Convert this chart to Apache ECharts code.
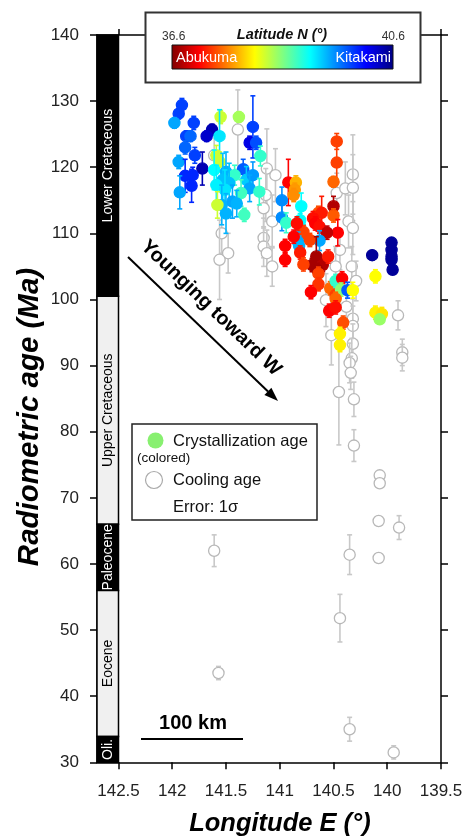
<!DOCTYPE html>
<html>
<head>
<meta charset="utf-8">
<title>Radiometric age vs longitude</title>
<script src="https://cdn.jsdelivr.net/npm/echarts@6/dist/echarts.min.js"></script>
<style>
  html, body { margin: 0; padding: 0; background: #fff; }
  #chart { width: 468px; height: 837px; }
</style>
</head>
<body>
<div id="chart"></div>
<script>
// crystallization ages (coloured by latitude)
var crysLon = [141.91, 141.94, 141.98, 141.80, 141.87, 141.83, 141.63, 141.68, 141.88, 141.79, 141.94, 141.72, 141.88, 141.81, 141.82, 141.93,
  141.55, 141.38, 141.56, 141.25, 141.28, 141.22, 141.59, 141.56, 141.18, 141.34, 141.61, 141.50, 141.42, 141.53, 141.47, 141.31, 141.25, 141.28,
  141.59, 141.51, 141.36, 141.19, 141.54, 141.44, 141.40, 141.50, 141.33, 141.58,
  140.92, 140.85, 140.86, 140.87, 140.47, 140.47, 140.50, 140.98, 140.98, 140.94, 140.80, 140.81, 140.81, 140.50, 140.50, 140.64, 140.61, 140.69,
  140.67, 140.63, 140.46, 140.56, 140.78, 140.84, 140.63, 140.83, 140.82, 140.72, 140.95, 140.95, 140.81, 140.66, 140.70, 140.60, 140.65, 140.55,
  140.78, 140.64, 140.64, 140.71, 140.53, 140.48, 140.48, 140.42, 140.43, 140.37, 140.32, 140.48, 140.54, 140.48, 140.41, 140.44, 140.44,
  140.14, 139.96, 139.96, 139.96, 139.96, 139.95, 140.11, 140.11, 140.05, 140.07, 140.87];
var crysAge = [129.4, 128.1, 126.7, 126.7, 124.7, 124.7, 125.7, 124.7, 123.0, 121.8, 120.8, 119.8, 118.7, 118.8, 117.2, 116.2,
  127.6, 127.6, 124.7, 126.1, 123.7, 123.7, 121.8, 120.8, 121.7, 119.7, 119.6, 119.3, 118.8, 118.1, 117.6, 118.1, 118.8, 116.8,
  117.3, 116.6, 116.1, 116.3, 114.3, 114.8, 114.5, 113.0, 112.8, 114.3,
  117.7, 117.7, 116.6, 115.8, 123.9, 120.7, 117.8, 115.0, 112.4, 111.6, 114.1, 112.0, 111.0, 114.1, 112.7, 113.1, 113.1, 112.3,
  111.5, 111.0, 110.1, 110.1, 110.2, 111.5, 108.9, 108.7, 108.1, 109.0, 108.1, 106.0, 107.1, 106.5, 105.2, 105.2, 104.5, 106.5,
  105.3, 103.9, 102.3, 101.1, 101.7, 100.7, 102.8, 103.2, 101.5, 101.4, 101.4, 100.1, 98.3, 98.8, 96.5, 94.8, 93.1,
  106.7, 108.6, 107.5, 106.5, 106.0, 104.5, 103.5, 98.0, 97.8, 97.0, 109.5];
var crysErr = [1.0, 0.8, 0.8, 1.0, 0.8, 0.8, 0.8, 0.8, 1.0, 1.2, 1.0, 2.5, 2.5, 1.2, 2.5, 2.5,
  1.0, 0.8, 4.0, 4.7, 1.0, 1.0, 1.5, 1.5, 1.5, 1.5, 3.0, 3.0, 1.5, 4.0, 3.0, 2.0, 2.0, 2.0,
  3.0, 3.0, 2.0, 2.0, 3.0, 2.5, 2.0, 3.0, 1.0, 2.0,
  3.5, 1.0, 1.0, 1.0, 1.2, 3.0, 0.8, 2.0, 2.0, 1.5, 2.0, 2.0, 2.0, 1.5, 1.0, 1.0, 2.5, 1.0,
  1.0, 1.0, 2.0, 1.0, 1.0, 1.0, 1.5, 1.5, 1.5, 1.0, 1.0, 1.0, 1.0, 3.0, 1.0, 1.0, 1.0, 1.0,
  1.0, 1.0, 1.0, 1.0, 1.0, 1.0, 1.0, 1.0, 1.0, 1.2, 1.2, 1.0, 1.0, 1.0, 1.0, 1.0, 1.0,
  0.7, 0.7, 0.7, 0.7, 0.7, 0.7, 1.0, 1.0, 1.0, 0.5, 1.0];
var crysLat = [39.85, 39.85, 39.45, 39.85, 39.85, 39.7, 40.4, 40.3, 39.7, 39.85, 39.45, 40.4, 39.95, 39.95, 39.95, 39.45,
  38.3, 38.45, 39.2, 39.85, 40.2, 39.8, 38.3, 38.3, 38.9, 39.75, 39.1, 39.4, 38.9, 39.35, 39.35, 39.3, 39.5, 39.45,
  39.15, 39.2, 38.85, 38.9, 39.4, 39.45, 39.4, 39.4, 38.85, 38.3,
  37.1, 37.8, 37.7, 37.65, 37.35, 37.35, 37.5, 39.55, 39.55, 38.9, 39.1, 39.1, 39.1, 36.8, 37.45, 37.4, 37.2, 37.15,
  37.1, 37.15, 37.1, 36.85, 37.35, 37.15, 39.45, 39.45, 39.4, 37.35, 37.1, 37.1, 37.2, 36.75, 36.75, 36.8, 36.75, 37.2,
  37.35, 37.35, 37.3, 37.1, 37.5, 37.35, 38.9, 37.1, 38.55, 39.75, 38.1, 37.5, 37.1, 37.15, 37.4, 38.05, 38.05,
  40.5, 40.5, 40.5, 40.5, 40.5, 40.5, 38.1, 38.05, 38.0, 38.5, 37.1];

// cooling ages (open circles)
var coolLon = [141.39, 141.12, 141.04, 141.13, 141.15, 141.07, 141.15, 141.15, 141.12, 141.07, 141.54, 141.48, 141.56, 141.61,
  140.47, 140.39, 140.32, 140.32, 140.36, 140.32, 140.44, 140.48, 140.33, 140.29, 140.57, 140.38, 140.32, 140.32, 140.52,
  140.32, 140.33, 140.35, 140.34, 140.45, 140.31, 140.31, 139.90, 139.86, 139.86, 140.07, 140.07, 140.08, 139.89,
  141.61, 140.35, 140.08, 140.44, 141.57, 140.35, 139.94];
var coolAge = [125.7, 119.8, 118.8, 115.8, 113.8, 111.8, 109.3, 108.0, 107.0, 105.0, 110.0, 107.0, 106.0, 121.8,
  116.1, 116.8, 118.9, 116.9, 111.8, 110.8, 107.5, 105.0, 105.0, 102.8, 99.9, 98.9, 97.1, 96.0, 94.6,
  93.3, 91.1, 90.4, 88.9, 86.0, 84.9, 77.9, 97.6, 92.0, 91.2, 73.4, 72.2, 66.5, 65.5,
  62.0, 61.4, 60.9, 51.8, 43.5, 35.0, 31.5];
var coolErr = [6.0, 6.0, 4.0, 4.0, 3.0, 4.0, 3.0, 3.0, 3.5, 3.0, 3.0, 3.0, 6.0, 3.0,
  3.0, 4.0, 6.0, 5.0, 4.0, 4.0, 3.0, 3.0, 3.0, 3.0, 4.0, 3.0, 3.0, 3.0, 4.5,
  3.0, 3.0, 3.0, 2.5, 8.0, 2.6, 2.4, 2.2, 2.0, 2.0, 0.3, 0.3, 0.3, 1.8,
  2.4, 3.0, 0.3, 3.6, 1.0, 1.8, 1.0];

var xTicks = [142.5, 142, 141.5, 141, 140.5, 140, 139.5];

// geologic time scale column
var epochNames = ['Lower Cretaceous', 'Upper Cretaceous', 'Paleocene', 'Eocene', 'Oli.'];
var epochTop = [140, 100.5, 66, 56, 33.9];
var epochBase = [100.5, 66, 56, 33.9, 30];
var epochDark = [true, false, true, false, true];

var latMin = 36.6, latMax = 40.6;
var jet = ['#800000', '#ff0000', '#ff8000', '#ffff00', '#80ff80', '#00ffff', '#0080ff', '#0000ff', '#000080'];

var FONT = "'Liberation Sans', Arial, Helvetica, sans-serif";

var chart = echarts.init(document.getElementById('chart'));

function errPoint(fill, stroke, bar) {
  return function (params, api) {
    var lon = api.value(0), age = api.value(1), err = api.value(2);
    var c = api.coord([lon, age]);
    var hi = api.coord([lon, age + err]);
    var lo = api.coord([lon, age - err]);
    var col = fill || api.visual('color');
    var bc = bar || col;
    var cap = 2.5;
    return {
      type: 'group',
      children: [
        { type: 'line', shape: { x1: c[0], y1: hi[1], x2: c[0], y2: lo[1] }, style: { stroke: bc, lineWidth: 1.6 } },
        { type: 'line', shape: { x1: c[0] - cap, y1: hi[1], x2: c[0] + cap, y2: hi[1] }, style: { stroke: bc, lineWidth: 1.6 } },
        { type: 'line', shape: { x1: c[0] - cap, y1: lo[1], x2: c[0] + cap, y2: lo[1] }, style: { stroke: bc, lineWidth: 1.6 } },
        { type: 'circle', shape: { cx: c[0], cy: c[1], r: 5.6 }, style: { fill: col, stroke: stroke || col, lineWidth: 1.3 } }
      ]
    };
  };
}

var scaleData = epochNames.map(function (n, i) { return [142.7, 142.5, epochTop[i], epochBase[i], i]; });
var crysData = crysLon.map(function (v, i) { return [v, crysAge[i], crysErr[i], crysLat[i]]; });
var coolData = coolLon.map(function (v, i) { return [v, coolAge[i], coolErr[i]]; });

var axisLine = { show: true, onZero: false, lineStyle: { color: '#000', width: 1.5 } };
var tickStyle = { color: '#000', width: 1.5 };

var option = {
  animation: false,
  grid: { left: 97, right: 27, top: 35, bottom: 74.7 },
  xAxis: [
    {
      type: 'value', min: 139.5, max: 142.7, inverse: true, position: 'bottom',
      axisLine: axisLine,
      axisTick: { show: true, length: 7, customValues: xTicks, lineStyle: tickStyle },
      axisLabel: { customValues: xTicks, fontSize: 17, color: '#222', margin: 21, fontFamily: FONT },
      splitLine: { show: false }
    },
    {
      type: 'value', min: 139.5, max: 142.7, inverse: true, position: 'top',
      axisLine: axisLine,
      axisTick: { show: true, length: 6, customValues: xTicks, lineStyle: tickStyle },
      axisLabel: { show: false },
      splitLine: { show: false }
    }
  ],
  yAxis: [
    {
      type: 'value', min: 30, max: 140, interval: 10, position: 'left',
      axisLine: axisLine,
      axisTick: { show: true, length: 7, lineStyle: tickStyle },
      axisLabel: { fontSize: 17, color: '#222', margin: 18, fontFamily: FONT },
      splitLine: { show: false }
    },
    {
      type: 'value', min: 30, max: 140, interval: 10, position: 'right',
      axisLine: axisLine,
      axisTick: { show: true, length: 7, lineStyle: tickStyle },
      axisLabel: { show: false },
      splitLine: { show: false }
    }
  ],
  visualMap: {
    show: false, type: 'continuous', dimension: 3, min: latMin, max: latMax,
    seriesIndex: 2, inRange: { color: jet }
  },
  series: [
    {
      type: 'custom', name: 'timescale', data: scaleData, encode: { x: [0, 1], y: [2, 3] }, z: 5,
      renderItem: function (params, api) {
        var i = api.value(4);
        var p0 = api.coord([api.value(0), api.value(2)]);
        var p1 = api.coord([api.value(1), api.value(3)]);
        var dark = epochDark[i];
        return {
          type: 'group',
          children: [
            { type: 'rect', shape: { x: p0[0], y: p0[1], width: p1[0] - p0[0], height: p1[1] - p0[1] },
              style: { fill: dark ? '#000' : '#f0f0f0', stroke: '#000', lineWidth: 1.5 } },
            { type: 'text', x: (p0[0] + p1[0]) / 2 + 0.5, y: (p0[1] + p1[1]) / 2, rotation: Math.PI / 2,
              style: { text: epochNames[i], fill: dark ? '#fff' : '#000', fontSize: 14, fontFamily: FONT,
                align: 'center', verticalAlign: 'middle' } }
          ]
        };
      }
    },
    {
      type: 'custom', name: 'Cooling age', data: coolData, encode: { x: 0, y: 1 }, z: 3,
      renderItem: errPoint('#fff', '#b8b8b8', '#c8c8c8')
    },
    {
      type: 'custom', name: 'Crystallization age', data: crysData, encode: { x: 0, y: 1 }, z: 4,
      renderItem: errPoint(null, null, null)
    }
  ],
  graphic: [
    // latitude colour bar
    { type: 'rect', z: 100, shape: { x: 145.5, y: 12.5, width: 275, height: 70 },
      style: { fill: '#fff', stroke: '#333', lineWidth: 2 } },
    { type: 'rect', z: 101, shape: { x: 172, y: 45, width: 221, height: 24 },
      style: { stroke: '#111', lineWidth: 1,
        fill: { type: 'linear', x: 0, y: 0, x2: 1, y2: 0,
          colorStops: jet.map(function (c, i) { return { offset: i / (jet.length - 1), color: c }; }) } } },
    { type: 'text', z: 102, x: 162, y: 37, style: { text: String(latMin), fontSize: 12, fill: '#333', fontFamily: FONT, verticalAlign: 'middle' } },
    { type: 'text', z: 102, x: 405, y: 37, style: { text: String(latMax), fontSize: 12, fill: '#333', fontFamily: FONT, align: 'right', verticalAlign: 'middle' } },
    { type: 'text', z: 102, x: 282, y: 35, style: { text: 'Latitude N (°)', fontSize: 14.5, fontWeight: 'bold', fontStyle: 'italic', fill: '#111', fontFamily: FONT, align: 'center', verticalAlign: 'middle' } },
    { type: 'text', z: 102, x: 176, y: 57.5, style: { text: 'Abukuma', fontSize: 14.5, fill: '#fff', fontFamily: FONT, verticalAlign: 'middle' } },
    { type: 'text', z: 102, x: 391, y: 57.5, style: { text: 'Kitakami', fontSize: 14.5, fill: '#fff', fontFamily: FONT, align: 'right', verticalAlign: 'middle' } },

    // age-type legend
    { type: 'rect', z: 100, shape: { x: 132, y: 424, width: 185, height: 96 },
      style: { fill: '#fff', stroke: '#222', lineWidth: 1.5 } },
    { type: 'circle', z: 101, shape: { cx: 155.5, cy: 440.5, r: 8 }, style: { fill: '#88f070' } },
    { type: 'text', z: 101, x: 173, y: 441, style: { text: 'Crystallization age', fontSize: 16.5, fill: '#111', fontFamily: FONT, verticalAlign: 'middle' } },
    { type: 'text', z: 101, x: 137, y: 458.5, style: { text: '(colored)', fontSize: 13.5, fill: '#111', fontFamily: FONT, verticalAlign: 'middle' } },
    { type: 'circle', z: 101, shape: { cx: 154, cy: 480, r: 8.5 }, style: { fill: '#fff', stroke: '#aaa', lineWidth: 1.2 } },
    { type: 'text', z: 101, x: 173, y: 480, style: { text: 'Cooling age', fontSize: 16.5, fill: '#111', fontFamily: FONT, verticalAlign: 'middle' } },
    { type: 'text', z: 101, x: 173, y: 507, style: { text: 'Error: 1σ', fontSize: 16.5, fill: '#111', fontFamily: FONT, verticalAlign: 'middle' } },

    // scale bar
    { type: 'line', z: 100, shape: { x1: 141, y1: 739, x2: 243, y2: 739 }, style: { stroke: '#000', lineWidth: 2 } },
    { type: 'text', z: 100, x: 193, y: 723, style: { text: '100 km', fontSize: 20, fontWeight: 'bold', fill: '#000', fontFamily: FONT, align: 'center', verticalAlign: 'middle' } },

    // trend arrow
    { type: 'line', z: 100, shape: { x1: 128, y1: 257, x2: 268, y2: 391.5 }, style: { stroke: '#000', lineWidth: 2 } },
    { type: 'polygon', z: 100, shape: { points: [[278, 401], [264.4, 394.9], [271.4, 387.7]] }, style: { fill: '#000' } },
    { type: 'text', z: 100, x: 211, y: 308, rotation: -0.766,
      style: { text: 'Younging toward W', fontSize: 20, fontWeight: 'bold', fill: '#000', fontFamily: FONT, align: 'center', verticalAlign: 'middle' } },

    // axis titles
    { type: 'text', z: 100, x: 280, y: 824, style: { text: 'Longitude E (°)', fontSize: 25.5, fontWeight: 'bold', fontStyle: 'italic', fill: '#000', fontFamily: FONT, align: 'center', verticalAlign: 'middle' } },
    { type: 'text', z: 100, x: 30, y: 417, rotation: Math.PI / 2,
      style: { text: 'Radiometric age (Ma)', fontSize: 29.5, fontWeight: 'bold', fontStyle: 'italic', fill: '#000', fontFamily: FONT, align: 'center', verticalAlign: 'middle' } }
  ]
};

chart.setOption(option);
</script>
</body>
</html>
